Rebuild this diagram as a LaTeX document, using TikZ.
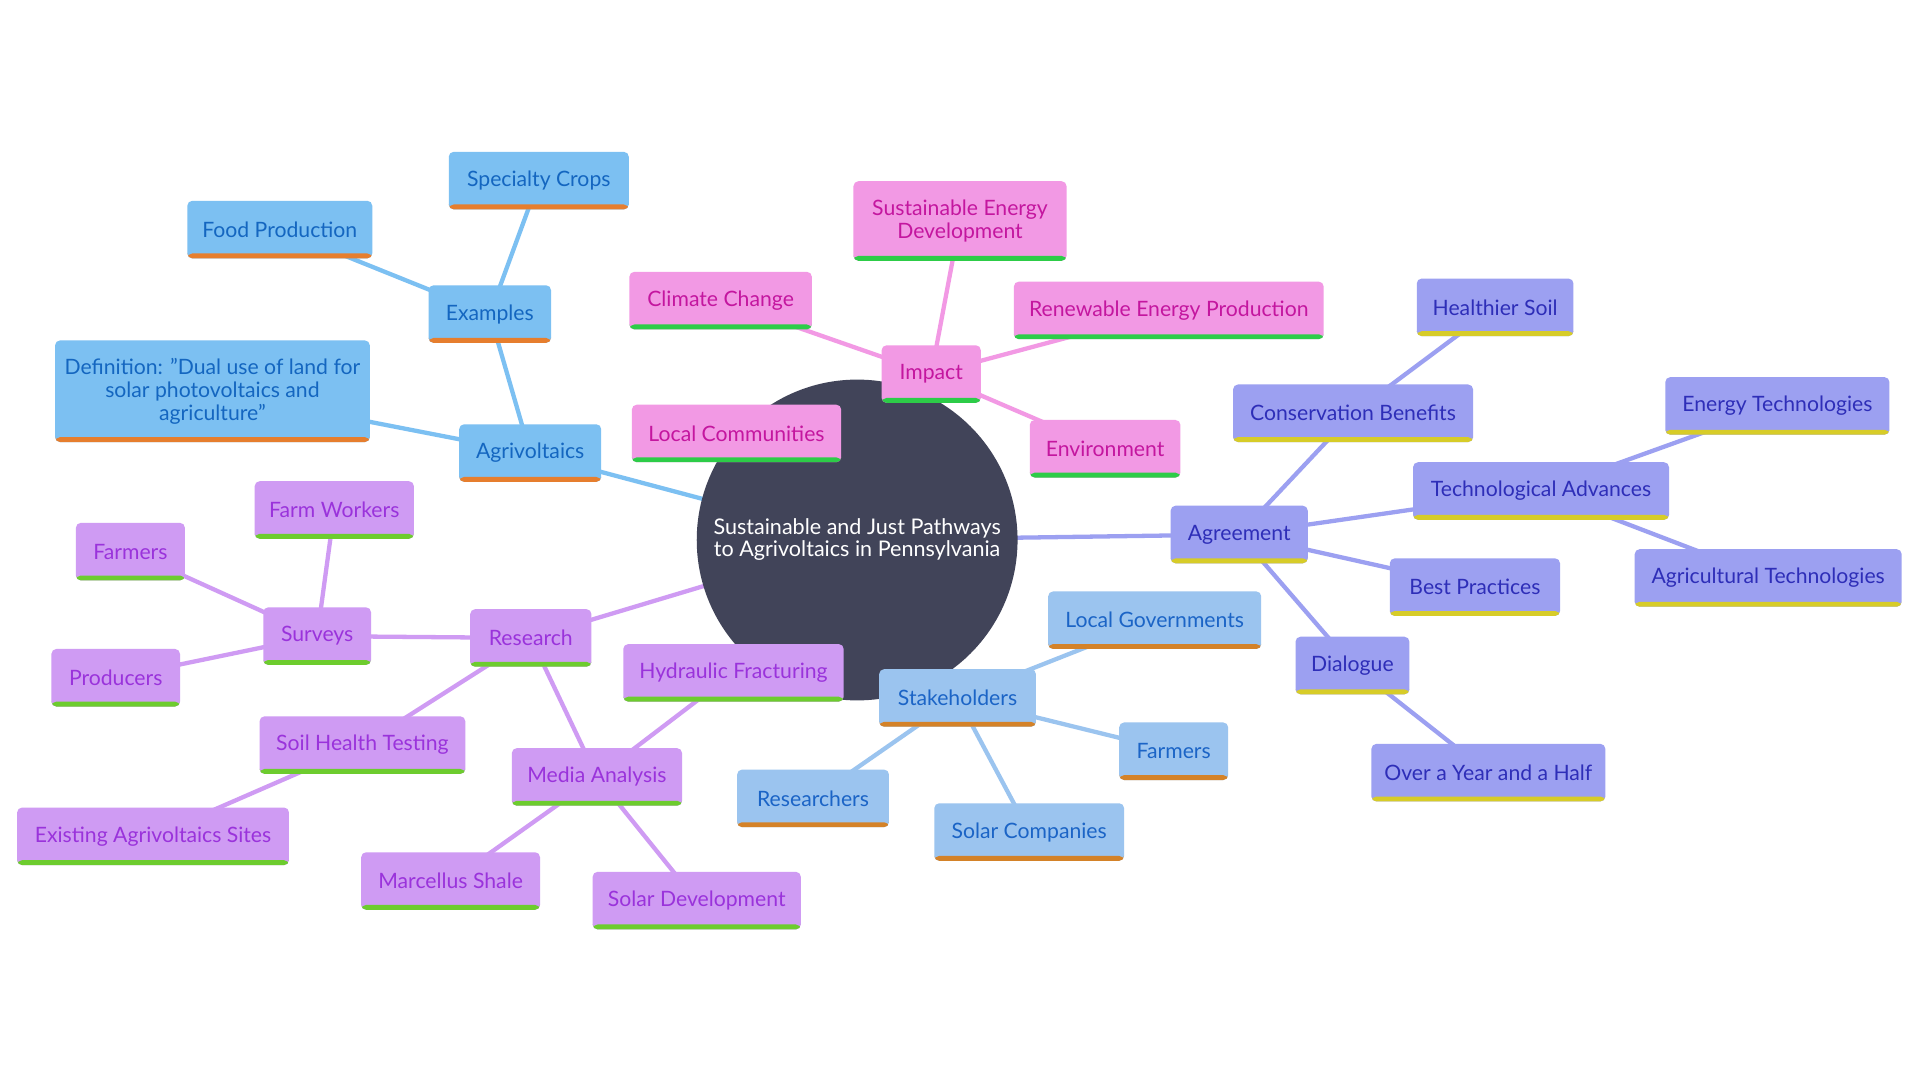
\documentclass[tikz,border=0pt]{standalone}
\usepackage{fontspec}
\setmainfont{Lato}
\usepackage{tikz}
\usetikzlibrary{backgrounds}

\definecolor{hubfill}{HTML}{414459}
\definecolor{agrifill}{HTML}{7CC0F2}
\definecolor{agritext}{HTML}{1466C0}
\definecolor{agribar}{HTML}{E67E2E}
\definecolor{impfill}{HTML}{F299E4}
\definecolor{imptext}{HTML}{C4169F}
\definecolor{impbar}{HTML}{2DCC48}
\definecolor{resfill}{HTML}{CF9BF3}
\definecolor{restext}{HTML}{9A33DB}
\definecolor{resbar}{HTML}{6DCC2E}
\definecolor{stkfill}{HTML}{9BC4EF}
\definecolor{stktext}{HTML}{1B64C6}
\definecolor{stkbar}{HTML}{D48228}
\definecolor{agrfill}{HTML}{9CA0F1}
\definecolor{agrtext}{HTML}{2E2EB8}
\definecolor{agrbar}{HTML}{D7CC28}

\tikzset{strip/.style={path picture={\fill[#1] ([yshift=4pt]path picture bounding box.south west) rectangle (path picture bounding box.south east);}}}
\tikzstyle{card} = [rectangle,rounded corners=4pt,minimum height=47pt,inner xsep=6pt,inner ysep=0pt,align=center,font=\fontsize{17.3}{18.5}\selectfont]
\tikzstyle{hub} = [circle,fill=hubfill,text=white,minimum size=262pt,inner sep=0,align=center,font=\fontsize{17.6}{18}\selectfont]
\tikzstyle{agriv} = [card,fill=agrifill,text=agritext,strip=agribar]
\tikzstyle{impact} = [card,fill=impfill,text=imptext,strip=impbar]
\tikzstyle{research} = [card,fill=resfill,text=restext,strip=resbar]
\tikzstyle{stake} = [card,fill=stkfill,text=stktext,strip=stkbar]
\tikzstyle{agree} = [card,fill=agrfill,text=agrtext,strip=agrbar]
\def \lw {3.5pt}

\begin{document}
\begin{tikzpicture}[x=1pt,y=-1pt]
      \useasboundingbox (0,0) rectangle (1568,882);
      \node[hub] (c) at (700,441) {Sustainable and Just Pathways\\to Agrivoltaics in Pennsylvania};

      % agrivoltaics
      \node[agriv,minimum width=116pt] (agri) at (433,370) {Agrivoltaics};
      \node[agriv,minimum width=100pt] (ex) at (400,256.5) {Examples};
      \node[agriv,minimum width=147pt] (crops) at (440,147.5) {Specialty Crops};
      \node[agriv,minimum width=151pt] (food) at (228.5,187.5) {Food Production};
      \node[agriv,minimum width=257pt,minimum height=83pt] (defn) at (173.5,319.5) {Definition: "Dual use of land for\\solar photovoltaics and\\agriculture"};

      % impact
      \node[impact,minimum width=81pt] (imp) at (760.5,305.5) {Impact};
      \node[impact,minimum width=174pt,minimum height=65pt] (sed) at (784,180.5) {Sustainable Energy\\Development};
      \node[impact,minimum width=149pt] (clim) at (588.5,245.5) {Climate Change};
      \node[impact,minimum width=253pt] (renew) at (954.5,253.5) {Renewable Energy Production};
      \node[impact,minimum width=123pt] (env) at (902.5,366.5) {Environment};
      \node[impact,minimum width=171pt] (local) at (601.5,354) {Local Communities};

      % research
      \node[research,minimum width=99pt] (res) at (433.5,521) {Research};
      \node[research,minimum width=88pt] (surv) at (259,519.5) {Surveys};
      \node[research,minimum width=130pt] (workers) at (273,416.5) {Farm Workers};
      \node[research,minimum width=89pt] (rfarm) at (106.5,450.5) {Farmers};
      \node[research,minimum width=105pt] (prod) at (94.5,553.5) {Producers};
      \node[research,minimum width=168pt] (soil) at (296,608.5) {Soil Health Testing};
      \node[research,minimum width=222pt] (sites) at (125,683) {Existing Agrivoltaics Sites};
      \node[research,minimum width=139pt] (media) at (487.5,634.5) {Media Analysis};
      \node[research,minimum width=180pt] (frack) at (599,549.5) {Hydraulic Fracturing};
      \node[research,minimum width=146pt] (shale) at (368,719.5) {Marcellus Shale};
      \node[research,minimum width=170pt] (solar) at (569,735.5) {Solar Development};

      % stakeholders
      \node[stake,minimum width=128pt] (stk) at (782,570) {Stakeholders};
      \node[stake,minimum width=174pt] (gov) at (943,506.5) {Local Governments};
      \node[stake,minimum width=89pt] (sfarm) at (958.5,613.5) {Farmers};
      \node[stake,minimum width=124pt] (rschr) at (664,652) {Researchers};
      \node[stake,minimum width=155pt] (comp) at (840.5,679.5) {Solar Companies};

      % agreement
      \node[agree,minimum width=112pt] (agr) at (1012,436.5) {Agreement};
      \node[agree,minimum width=196pt] (cons) at (1105,337.5) {Conservation Benefits};
      \node[agree,minimum width=128pt] (hsoil) at (1221,251) {Healthier Soil};
      \node[agree,minimum width=209pt] (tech) at (1258.5,401) {Technological Advances};
      \node[agree,minimum width=183pt] (etech) at (1451.5,331.5) {Energy Technologies};
      \node[agree,minimum width=218pt] (atech) at (1444,472) {Agricultural Technologies};
      \node[agree,minimum width=139pt] (best) at (1204.5,479.5) {Best Practices};
      \node[agree,minimum width=93pt] (dial) at (1104.5,543.5) {Dialogue};
      \node[agree,minimum width=191pt] (year) at (1215.5,631) {Over a Year and a Half};

      \begin{pgfonlayer}{background}
      \fill[white] (0,0) rectangle (1568,882);
      \draw[agrifill,line width=\lw] (c.center) -- (agri.center) (agri.center) -- (ex.center) (ex.center) -- (crops.center) (ex.center) -- (food.center) (agri.center) -- (defn.center);
      \draw[impfill,line width=\lw] (c.center) -- (imp.center) (imp.center) -- (sed.center) (imp.center) -- (clim.center) (imp.center) -- (renew.center) (imp.center) -- (env.center) (imp.center) -- (local.center);
      \draw[resfill,line width=\lw] (c.center) -- (res.center) (res.center) -- (surv.center) (surv.center) -- (workers.center) (surv.center) -- (rfarm.center) (surv.center) -- (prod.center) (res.center) -- (soil.center) (soil.center) -- (sites.center) (res.center) -- (media.center) (media.center) -- (frack.center) (media.center) -- (shale.center) (media.center) -- (solar.center);
      \draw[stkfill,line width=\lw] (c.center) -- (stk.center) (stk.center) -- (gov.center) (stk.center) -- (sfarm.center) (stk.center) -- (rschr.center) (stk.center) -- (comp.center);
      \draw[agrfill,line width=\lw] (c.center) -- (agr.center) (agr.center) -- (cons.center) (cons.center) -- (hsoil.center) (agr.center) -- (tech.center) (tech.center) -- (etech.center) (tech.center) -- (atech.center) (agr.center) -- (best.center) (agr.center) -- (dial.center) (dial.center) -- (year.center);
      \end{pgfonlayer}
    \end{tikzpicture}
\end{document}
